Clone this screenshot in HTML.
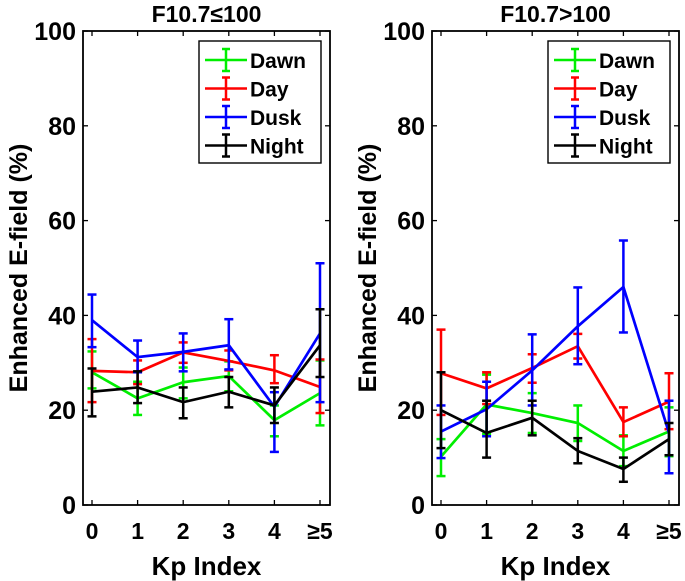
<!DOCTYPE html>
<html><head><meta charset="utf-8"><style>
body{margin:0;background:#fff;}
svg{display:block;font-family:"Liberation Sans",sans-serif;font-weight:bold;}
</style></head><body>
<svg id="chart" width="685" height="581" viewBox="0 0 685 581"></svg>
<script>
const categories = ["0","1","2","3","4","≥5"];
const yTicks = [0,20,40,60,80,100];
const seriesNames = ["Dawn","Day","Dusk","Night"];
const seriesColors = ["#00ee00","#ff0000","#0000ff","#000000"];
// Left panel F10.7<=100
const leftDawn = [28,22.5,25.9,27.2,17.9,23.6];
const leftDawnHi = [32.4,26,29,30.3,21,30.5];
const leftDawnLo = [24.6,19,22.5,24,14.5,16.8];
const leftDay = [28.3,28,32.2,30.4,28.4,24.9];
const leftDayHi = [35,30.5,34.3,32.6,31.6,30.7];
const leftDayLo = [21.7,25.5,30,28.4,25.7,19.4];
const leftDusk = [39,31.2,32.3,33.7,20.7,36.2];
const leftDuskHi = [44.4,34.7,36.2,39.2,23.8,51];
const leftDuskLo = [33.3,28,28.2,28.6,11.2,21.7];
const leftNight = [23.9,24.8,21.7,23.9,21,33.7];
const leftNightHi = [28.8,28.2,24.8,27,24.8,41.3];
const leftNightLo = [18.7,21.5,18.3,20.6,17.3,27];
// Right panel F10.7>100
const rightDawn = [10.2,21.2,19.4,17.3,11.4,15.5];
const rightDawnHi = [13.9,27.5,23.6,21,14.7,20.6];
const rightDawnLo = [6.1,15,15.2,13.5,8.2,10.3];
const rightDay = [27.8,24.6,28.9,33.5,17.5,21.8];
const rightDayHi = [37,28,31.8,36.1,20.6,27.8];
const rightDayLo = [19,21.3,25.8,30.9,14.5,16];
const rightDusk = [15.5,20.2,28.4,37.7,46,15.2];
const rightDuskHi = [21,26,36,45.9,55.8,22];
const rightDuskLo = [9.9,14.5,21,29.7,36.4,6.7];
const rightNight = [20,15.2,18.4,11.4,7.6,13.9];
const rightNightHi = [28,22,22,14.1,10,17.3];
const rightNightLo = [12,10,14.7,8.8,4.9,10.5];

const NS="http://www.w3.org/2000/svg";
const svg=document.getElementById('chart');
function mk(tag,attrs,parent,text){const e=document.createElementNS(NS,tag);for(const k in attrs)e.setAttribute(k,attrs[k]);if(text!==undefined)e.textContent=text;(parent||svg).appendChild(e);return e;}

function panel(opts){
  const g=mk('g',{});
  
  
  const L=opts.left,R=opts.left+247,T=31,B=505;
  const x0=opts.left+9,dx=45.6;
  const xs=i=>x0+i*dx;
  const ys=v=>B-(v/100)*(B-T);
  const t=mk('text',{x:(L+R)/2,y:22,'text-anchor':'middle','font-size':23},g,opts.title);
  
  
  yTicks.forEach(v=>{
    const y=ys(v);
    mk('line',{x1:L,x2:L+5,y1:y,y2:y,stroke:'#000','stroke-width':1.3},g);
    mk('line',{x1:R,x2:R-5,y1:y,y2:y,stroke:'#000','stroke-width':1.3},g);
    const lb=mk('text',{x:L-7,y:y+9,'text-anchor':'end','font-size':25},g,String(v));
    
    
  });
  categories.forEach((c,i)=>{
    const x=xs(i);
    mk('line',{x1:x,x2:x,y1:B,y2:B-5,stroke:'#000','stroke-width':1.3},g);
    mk('line',{x1:x,x2:x,y1:T,y2:T+5,stroke:'#000','stroke-width':1.3},g);
    const lb=mk('text',{x:x,y:539,'text-anchor':'middle','font-size':23},g,c);
    
    
  });
  const xl=mk('text',{x:(L+R)/2,y:575,'text-anchor':'middle','font-size':26},g,'Kp Index');
  
  
  opts.series.forEach((s,si)=>{
    const sg=mk('g',{},g);
    
    
    const col=seriesColors[si];
    s.v.forEach((v,i)=>{
      const x=xs(i);
      mk('line',{x1:x,x2:x,y1:ys(s.hi[i]),y2:ys(s.lo[i]),stroke:col,'stroke-width':2.5},sg);
      mk('line',{x1:x-4.5,x2:x+4.5,y1:ys(s.hi[i]),y2:ys(s.hi[i]),stroke:col,'stroke-width':2.5},sg);
      mk('line',{x1:x-4.5,x2:x+4.5,y1:ys(s.lo[i]),y2:ys(s.lo[i]),stroke:col,'stroke-width':2.5},sg);
    });
    const pts=s.v.map((v,i)=>xs(i)+','+ys(v)).join(' ');
    const pl=mk('polyline',{points:pts,fill:'none',stroke:col,'stroke-width':2.7},sg);
    
    
  });
  mk('rect',{x:L,y:T,width:R-L,height:B-T,fill:'none',stroke:'#000','stroke-width':1.8},g);
  const lg=mk('g',{},g);
  
  
  const lx=opts.left+116;
  mk('rect',{x:lx,y:41,width:122,height:122,fill:'#fff',stroke:'#000','stroke-width':1.4},lg);
  seriesNames.forEach((n,i)=>{
    const y=60+i*28.5;
    const col=seriesColors[i];
    mk('line',{x1:lx+6,x2:lx+48,y1:y,y2:y,stroke:col,'stroke-width':2.5},lg);
    mk('line',{x1:lx+27,x2:lx+27,y1:y-11,y2:y+11,stroke:col,'stroke-width':2.5},lg);
    mk('line',{x1:lx+23,x2:lx+31,y1:y-11,y2:y-11,stroke:col,'stroke-width':2.5},lg);
    mk('line',{x1:lx+23,x2:lx+31,y1:y+11,y2:y+11,stroke:col,'stroke-width':2.5},lg);
    const tx=mk('text',{x:lx+51,y:y+8,'font-size':21},lg,n);
    
    
  });
}
panel({name:'panel-low-f107',title:'F10.7≤100',left:83,series:[
  {v:leftDawn,hi:leftDawnHi,lo:leftDawnLo},{v:leftDay,hi:leftDayHi,lo:leftDayLo},
  {v:leftDusk,hi:leftDuskHi,lo:leftDuskLo},{v:leftNight,hi:leftNightHi,lo:leftNightLo}]});
panel({name:'panel-high-f107',title:'F10.7>100',left:432,series:[
  {v:rightDawn,hi:rightDawnHi,lo:rightDawnLo},{v:rightDay,hi:rightDayHi,lo:rightDayLo},
  {v:rightDusk,hi:rightDuskHi,lo:rightDuskLo},{v:rightNight,hi:rightNightHi,lo:rightNightLo}]});
const yt=mk('text',{x:0,y:0,'text-anchor':'middle','font-size':25,transform:'translate(27,268) rotate(-90)'},svg,'Enhanced E-field (%)');


const yt2=mk('text',{x:0,y:0,'text-anchor':'middle','font-size':25,transform:'translate(376,268) rotate(-90)'},svg,'Enhanced E-field (%)');


</script>
</body></html>
